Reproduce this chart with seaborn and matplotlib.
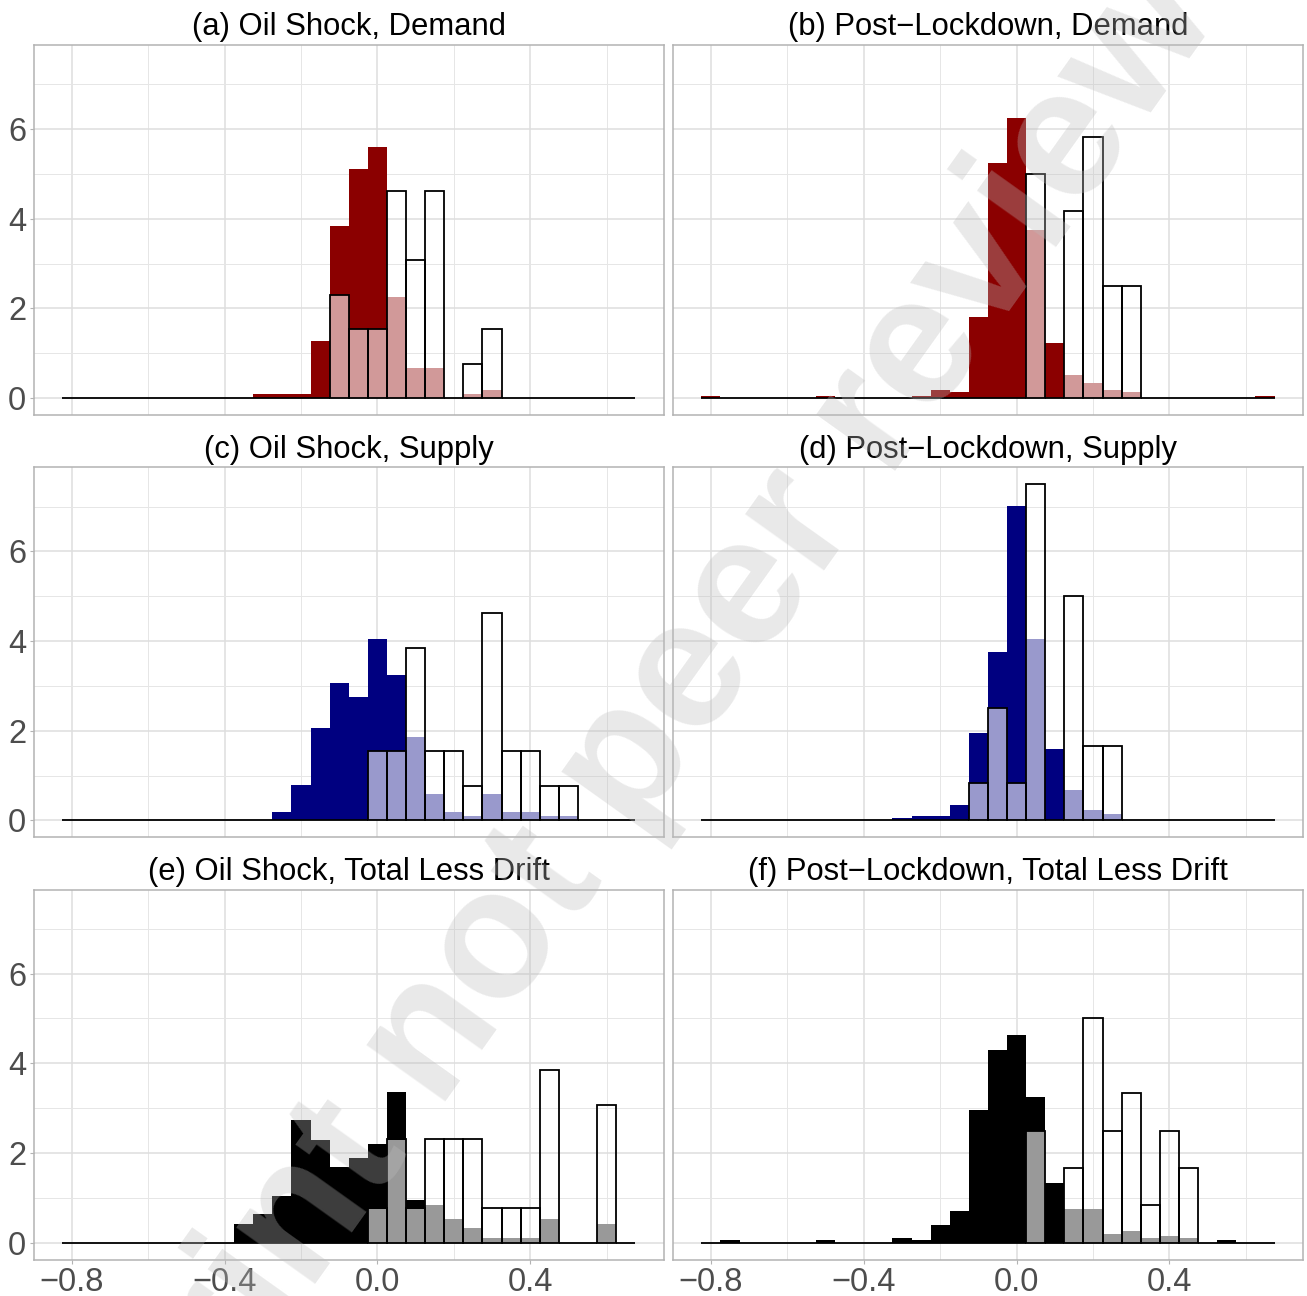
import numpy as np
import pandas as pd
import matplotlib
matplotlib.use('Agg')
import matplotlib.pyplot as plt
import seaborn as sns

# -----------------------
# bin centres (width 0.05) shared by all panels

bin_centers = [-0.80, -0.75, -0.70, -0.65, -0.60, -0.55, -0.50, -0.45, -0.40, -0.35,
               -0.30, -0.25, -0.20, -0.15, -0.10, -0.05, 0.00, 0.05, 0.10, 0.15,
               0.20, 0.25, 0.30, 0.35, 0.40, 0.45, 0.50, 0.55, 0.60, 0.65]

titles = ['(a) Oil Shock, Demand', '(b) Post\u2212Lockdown, Demand',
          '(c) Oil Shock, Supply', '(d) Post\u2212Lockdown, Supply',
          '(e) Oil Shock, Total Less Drift', '(f) Post\u2212Lockdown, Total Less Drift']

# density heights per bin: dark (filled), light (overlay), white (outlined)
a_dark = [0, 0, 0, 0, 0, 0, 0, 0, 0, 0, 0.085, 0.085, 0.085, 1.28, 3.84, 5.11, 5.60, 0, 0, 0,
          0, 0, 0, 0, 0, 0, 0, 0, 0, 0]
a_light = [0, 0, 0, 0, 0, 0, 0, 0, 0, 0, 0, 0, 0, 0, 2.30, 1.54, 1.54, 2.25, 0.67, 0.67,
           0, 0.09, 0.18, 0, 0, 0, 0, 0, 0, 0]
a_white = [0, 0, 0, 0, 0, 0, 0, 0, 0, 0, 0, 0, 0, 0, 2.31, 1.54, 1.54, 4.62, 3.08, 4.62,
           0, 0.77, 1.54, 0, 0, 0, 0, 0, 0, 0]

b_dark = [0.044, 0, 0, 0, 0, 0, 0.044, 0, 0, 0, 0, 0.044, 0.18, 0.13, 1.80, 5.25, 6.25, 0, 1.23, 0,
          0, 0, 0, 0, 0, 0, 0, 0, 0, 0.044]
b_light = [0, 0, 0, 0, 0, 0, 0, 0, 0, 0, 0, 0, 0, 0, 0, 0, 0, 3.76, 0, 0.52,
           0.34, 0.18, 0.14, 0, 0, 0, 0, 0, 0, 0]
b_white = [0, 0, 0, 0, 0, 0, 0, 0, 0, 0, 0, 0, 0, 0, 0, 0, 0, 5.00, 0, 4.17,
           5.83, 2.50, 2.50, 0, 0, 0, 0, 0, 0, 0]

c_dark = [0, 0, 0, 0, 0, 0, 0, 0, 0, 0, 0, 0.185, 0.79, 2.06, 3.06, 2.75, 4.04, 3.24, 0, 0,
          0, 0, 0, 0, 0, 0, 0, 0, 0, 0]
c_light = [0, 0, 0, 0, 0, 0, 0, 0, 0, 0, 0, 0, 0, 0, 0, 0, 1.54, 1.54, 1.86, 0.59,
           0.19, 0.11, 0.59, 0.19, 0.19, 0.11, 0.11, 0, 0, 0]
c_white = [0, 0, 0, 0, 0, 0, 0, 0, 0, 0, 0, 0, 0, 0, 0, 0, 1.54, 1.54, 3.85, 1.54,
           1.54, 0.77, 4.62, 1.54, 1.54, 0.77, 0.77, 0, 0, 0]

d_dark = [0, 0, 0, 0, 0, 0, 0, 0, 0, 0, 0.05, 0.096, 0.096, 0.34, 1.96, 3.76, 7.01, 0, 1.60, 0,
          0, 0, 0, 0, 0, 0, 0, 0, 0, 0]
d_light = [0, 0, 0, 0, 0, 0, 0, 0, 0, 0, 0, 0, 0, 0, 0.83, 2.50, 0.83, 4.05, 0, 0.67,
           0.23, 0.14, 0, 0, 0, 0, 0, 0, 0, 0]
d_white = [0, 0, 0, 0, 0, 0, 0, 0, 0, 0, 0, 0, 0, 0, 0.83, 2.50, 0.83, 7.50, 0, 5.00,
           1.67, 1.67, 0, 0, 0, 0, 0, 0, 0, 0]

e_dark = [0, 0, 0, 0, 0, 0, 0, 0, 0, 0.42, 0.64, 1.04, 2.73, 2.30, 1.68, 1.89, 2.20, 3.36, 0.96, 0,
          0, 0, 0, 0, 0, 0, 0, 0, 0, 0]
e_light = [0, 0, 0, 0, 0, 0, 0, 0, 0, 0, 0, 0, 0, 0, 0, 0, 0.76, 2.30, 0.76, 0.84,
           0.53, 0.33, 0.11, 0.11, 0.11, 0.53, 0, 0, 0.42, 0]
e_white = [0, 0, 0, 0, 0, 0, 0, 0, 0, 0, 0, 0, 0, 0, 0, 0, 0.77, 2.31, 0.77, 2.31,
           2.31, 2.31, 0.77, 0.77, 0.77, 3.85, 0, 0, 3.08, 0]

f_dark = [0, 0.05, 0, 0, 0, 0, 0.05, 0, 0, 0, 0.10, 0.05, 0.40, 0.70, 2.96, 4.29, 4.62, 3.24, 1.33, 0,
          0, 0, 0, 0, 0, 0, 0, 0.067, 0, 0]
f_light = [0, 0, 0, 0, 0, 0, 0, 0, 0, 0, 0, 0, 0, 0, 0, 0, 0, 2.50, 0, 0.76,
           0.76, 0.20, 0.27, 0.11, 0.16, 0.11, 0, 0, 0, 0]
f_white = [0, 0, 0, 0, 0, 0, 0, 0, 0, 0, 0, 0, 0, 0, 0, 0, 0, 2.50, 0, 1.67,
           5.00, 2.50, 3.33, 0.83, 2.50, 1.67, 0, 0, 0, 0]

panels = [
	(a_dark, a_light, a_white, '#8B0000', '#D19999'),
	(b_dark, b_light, b_white, '#8B0000', '#D19999'),
	(c_dark, c_light, c_white, '#000080', '#9999CC'),
	(d_dark, d_light, d_white, '#000080', '#9999CC'),
	(e_dark, e_light, e_white, '#000000', '#999999'),
	(f_dark, f_light, f_white, '#000000', '#999999'),
]

# -----------------------

sns.set_theme(style='white')
plt.rcParams['font.family'] = ['Liberation Sans', 'DejaVu Sans']

W, H = 1307, 1296
fig = plt.figure(figsize=(W / 100, H / 100), dpi=100)

lefts = [33.5, 672.7]
tops = [45, 467.3, 889.5]
pw, ph = 630.5, 370

hist_kw = dict(bins=30, binrange=(-0.825, 0.675), stat='count')

for i, (dark, light, white, c_dark_, c_light_) in enumerate(panels):
	row, col = i // 2, i % 2
	ax = fig.add_axes([lefts[col] / W, 1 - (tops[row] + ph) / H, pw / W, ph / H])

	sns.histplot(x=bin_centers, weights=dark, color=c_dark_, alpha=1,
		edgecolor='none', linewidth=0, ax=ax, **hist_kw)
	sns.histplot(x=bin_centers, weights=light, color=c_light_, alpha=1,
		edgecolor='none', linewidth=0, ax=ax, **hist_kw)
	sns.histplot(x=bin_centers, weights=white, color='black', fill=False,
		linewidth=1.3, ax=ax, **hist_kw)

	ax.set_xlim(-0.9, 0.75)
	ax.set_ylim(-0.375, 7.875)
	ax.set_xticks([-0.8, -0.4, 0.0, 0.4])
	ax.set_xticks([-0.6, -0.2, 0.2, 0.6], minor=True)
	ax.set_yticks([0, 2, 4, 6])
	ax.set_yticks([1, 3, 5, 7], minor=True)
	ax.set_xticklabels(['\u22120.8', '\u22120.4', '0.0', '0.4'])
	ax.set_yticklabels(['0', '2', '4', '6'])

	ax.set_axisbelow(True)
	ax.grid(which='major', color='#DEDEDE', lw=1.1)
	ax.grid(which='minor', color='#E6E6E6', lw=0.7)
	for sp in ax.spines.values():
		sp.set_color('#B3B3B3')
		sp.set_linewidth(1.1)

	ax.tick_params(which='minor', length=0)
	ax.tick_params(which='major', length=3, width=0.8, color='#B3B3B3',
		labelsize=23.5, labelcolor='#4D4D4D', pad=2.2,
		labelleft=(col == 0), left=(col == 0),
		labelbottom=(row == 2), bottom=(row == 2))

	ax.set_xlabel('')
	ax.set_ylabel('')
	ax.set_title(titles[i], fontsize=22.3, color='black', pad=7)

# watermark
fig.text(634 / W, 1 - 756 / H, 'Preprint not peer reviewed', rotation=54.5, fontsize=132,
	fontweight='bold', color='#BDBDBD', alpha=0.33, ha='center', va='center',
	rotation_mode='anchor', zorder=10)

plt.savefig('out.png', dpi=100)
